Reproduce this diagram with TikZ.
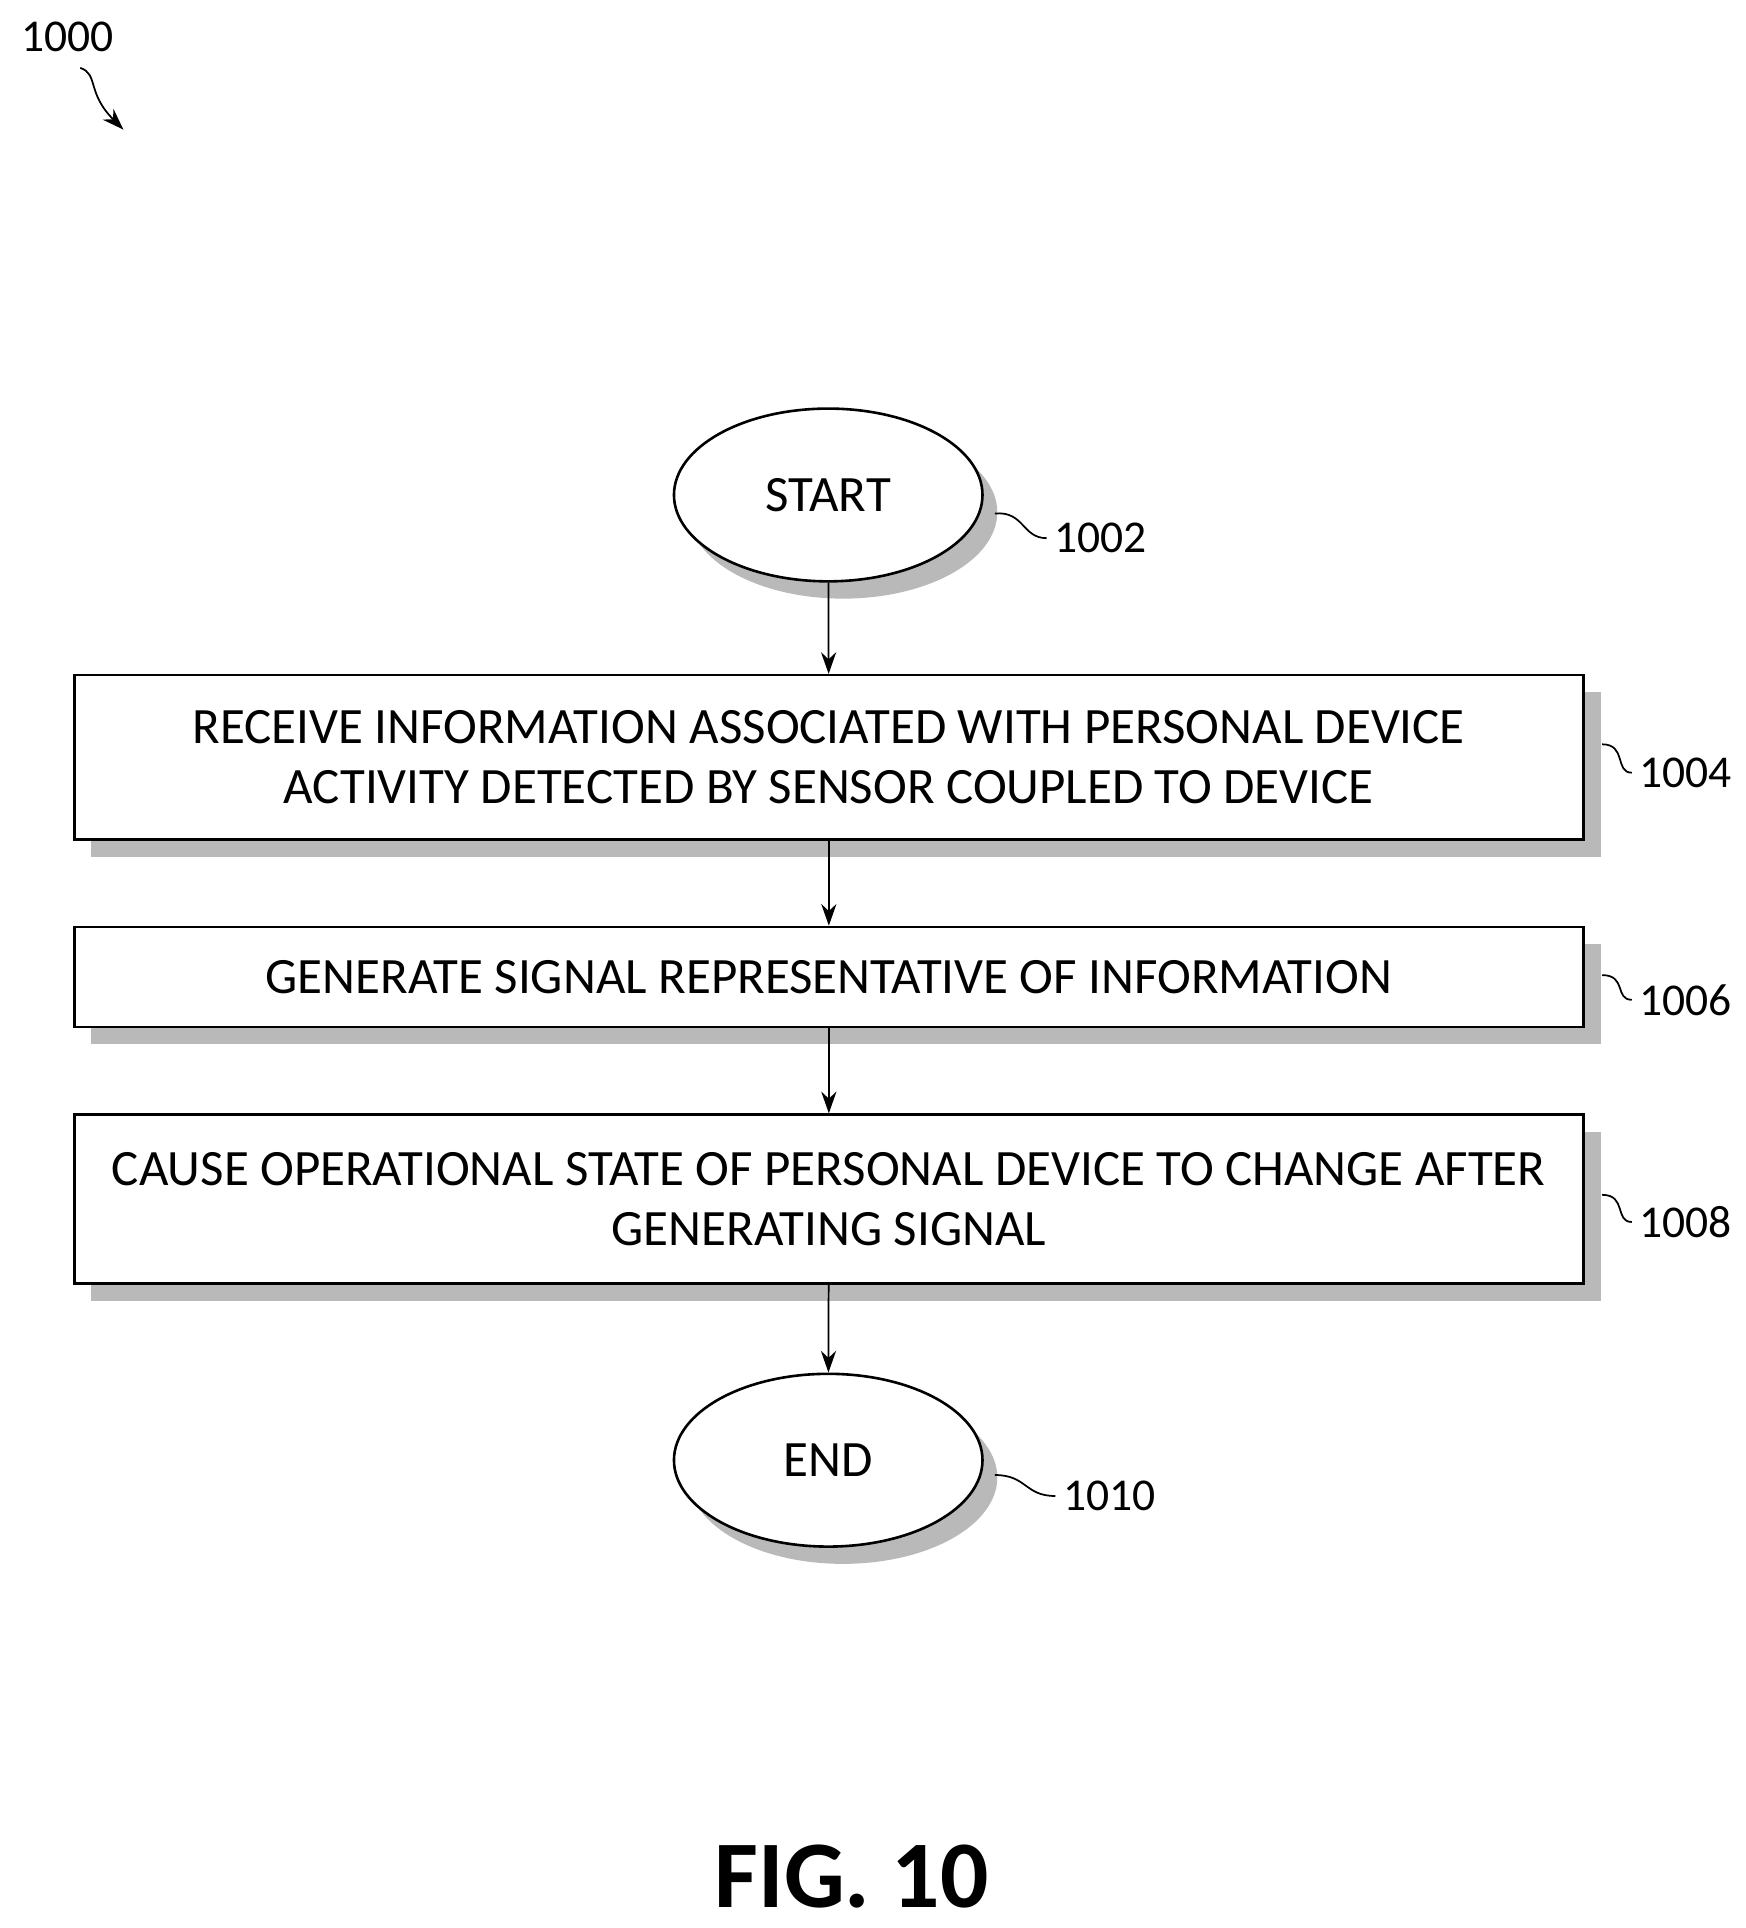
\documentclass[tikz,border=0pt]{standalone}
\usepackage{fontspec}
\setmainfont{Carlito}
\usetikzlibrary{arrows.meta,shadows,shapes.geometric}
\begin{document}
\begin{tikzpicture}[x=0.02cm,y=-0.02cm,
  font=\fontsize{21}{28}\selectfont,
  box/.style={draw,very thick,fill=white,minimum width=24.46cm,align=center,
    font=\fontsize{23.5}{28}\selectfont,
    drop shadow={shadow xshift=0.28cm,shadow yshift=-0.28cm,fill=gray!55,opacity=1}},
  term/.style={draw,very thick,ellipse,fill=white,minimum width=5cm,minimum height=2.8cm,
    font=\fontsize{23.5}{28}\selectfont,
    drop shadow={shadow xshift=0.24cm,shadow yshift=-0.28cm,fill=gray!55,opacity=1}},
  arr/.style={-{Stealth[length=10pt,width=7pt]},thick},
  lead/.style={thick}]
\useasboundingbox (0,0) rectangle (1414,1562);
\node[term] (s) at (671,401) {START};
\node[box,minimum height=2.66cm] (b1) at (671.5,613.5) {RECEIVE INFORMATION ASSOCIATED WITH PERSONAL DEVICE\\ACTIVITY DETECTED BY SENSOR COUPLED TO DEVICE};
\node[box,minimum height=1.62cm] (b2) at (671.5,791.5) {GENERATE SIGNAL REPRESENTATIVE OF INFORMATION};
\node[box,minimum height=2.74cm] (b3) at (671.5,971.5) {CAUSE OPERATIONAL STATE OF PERSONAL DEVICE TO CHANGE AFTER\\GENERATING SIGNAL};
\node[term] (e) at (671,1183) {END};
\draw[arr] (s) -- (b1);
\draw[arr] (b1) -- (b2);
\draw[arr] (b2) -- (b3);
\draw[arr] (b3) -- (e);
\node[anchor=west] (l2) at (848,436) {1002};
\node[anchor=west] (l4) at (1322,626) {1004};
\node[anchor=west] (l6) at (1322,810) {1006};
\node[anchor=west] (l8) at (1322,990) {1008};
\node[anchor=west] (l10) at (855,1212) {1010};
\coordinate (c2) at (806,416);
\coordinate (c4) at (1298,603);
\coordinate (c6) at (1298,790);
\coordinate (c8) at (1298,968);
\coordinate (c10) at (806,1195);
\draw[lead] (c2) .. controls (830,414) and (828,436) .. (l2.west);
\draw[lead] (c4) .. controls (1318,603) and (1308,626) .. (l4.west);
\draw[lead] (c6) .. controls (1318,790) and (1308,810) .. (l6.west);
\draw[lead] (c8) .. controls (1318,968) and (1308,990) .. (l8.west);
\draw[lead] (c10) .. controls (832,1195) and (830,1212) .. (l10.west);
\node (l0) at (55,30) {1000};
\coordinate (t0) at (100,105);
\draw[thick,-{Stealth[length=10pt,width=7pt]}] (65,55) .. controls (80,60) and (70,75) .. (t0);
\node[font=\fontsize{44}{48}\selectfont\bfseries] (fig) at (690,1520) {FIG. 10};
\end{tikzpicture}
\end{document}
